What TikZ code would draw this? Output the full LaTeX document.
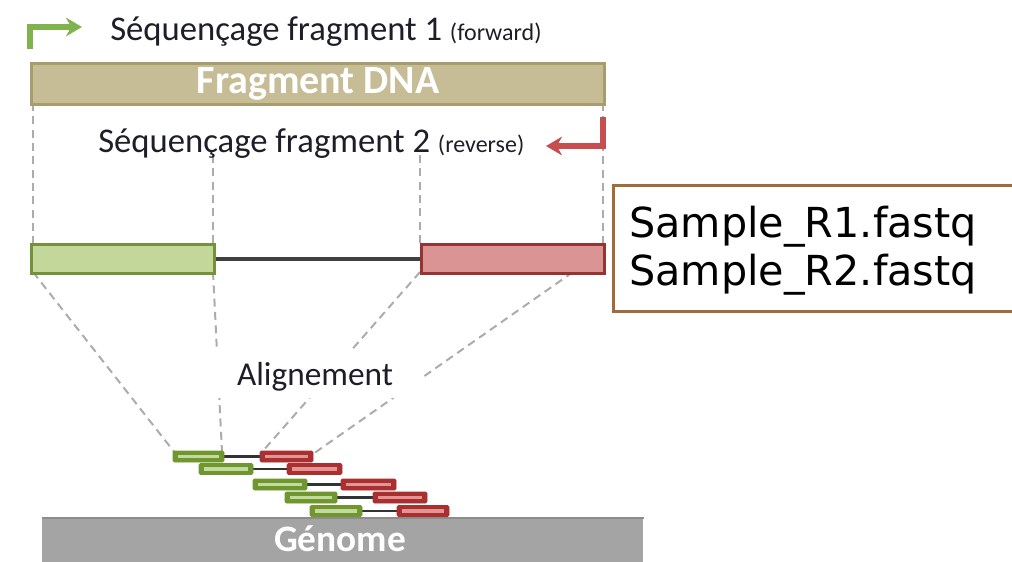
\documentclass[tikz,border=0pt]{standalone}
\usepackage{fontspec}
\setmainfont{Carlito}
\newfontfamily\filefont{DejaVu Sans}
\usetikzlibrary{arrows.meta}
\definecolor{fragfill}{RGB}{198,188,150}
\definecolor{fragline}{RGB}{168,156,108}
\definecolor{fwdgreen}{RGB}{128,178,78}
\definecolor{revred}{RGB}{198,78,78}
\definecolor{greenfill}{RGB}{196,215,155}
\definecolor{greenline}{RGB}{116,146,58}
\definecolor{redfill}{RGB}{218,148,148}
\definecolor{redline}{RGB}{150,52,52}
\definecolor{darkgreen}{RGB}{112,150,48}
\definecolor{lightgreen}{RGB}{196,218,156}
\definecolor{darkred}{RGB}{168,48,48}
\definecolor{lightred}{RGB}{228,148,148}
\definecolor{filebrown}{RGB}{160,108,58}
\definecolor{genomegray}{RGB}{164,164,164}
\definecolor{genomeedge}{RGB}{140,140,140}
\definecolor{guide}{RGB}{172,172,172}
\definecolor{textdark}{RGB}{30,30,40}
\tikzset{
  guideline/.style={draw=guide, line width=1.5, dash pattern=on 6 off 4},
  readbox/.style={line width=2.2},
  link/.style={draw=black!75, line width=3},
  minilink/.style={draw=black!80, line width=1.6},
  seqarrow/.style={line width=3.8, -{Stealth[length=12pt,width=14pt]}},
  label/.style={text=textdark, inner sep=0pt, anchor=base west}
}
% a pair of aligned mates: green forward read, red reverse read
\newcommand{\readpair}[6]{%
  \draw[minilink] (#2,#5) -- (#3,#5);
  \filldraw[draw=darkgreen, fill=darkgreen, rounded corners=1] (#1,#5-5.5) rectangle (#2,#5+5.5);
  \draw[lightgreen, line width=2.6] (#1+5,#5) -- (#2-5,#5);
  \filldraw[draw=darkred, fill=darkred, rounded corners=1] (#3,#5-5.5) rectangle (#4,#5+5.5);
  \draw[lightred, line width=2.6] (#3+5,#5) -- (#4-5,#5);
  \coordinate (#6) at (#1,#5);
}
\begin{document}
\begin{tikzpicture}[x=0.75pt,y=-0.75pt]
\useasboundingbox (0,0) rectangle (1012,561);

% guide lines from the fragment down to the read pair
\draw[guideline] (33,103) -- (33,243);
\draw[guideline] (603,103) -- (603,243);
\draw[guideline] (213,155) -- (213,243);
\draw[guideline] (420,155) -- (420,243);

% guide lines from the read pair down to the alignment
\coordinate (gl) at (33,272);
\coordinate (gr) at (213,272);
\coordinate (rl) at (420,272);
\coordinate (rr) at (573,272);
\coordinate (a1) at (175,453);
\coordinate (a2) at (222,452);
\coordinate (a3) at (262,452);
\coordinate (a4) at (313,454);
\draw[guideline] (gl) -- (a1);
\draw[guideline] (gr) -- (a2);
\draw[guideline] (rl) -- (a3);
\draw[guideline] (rr) -- (a4);

% sequencing direction labels
\draw[fwdgreen, seqarrow] (30,49) -- (30,27) -- (82,27);
\node[label] (fwd) at (110,40) {\fontsize{26}{28}\selectfont Séquençage fragment 1 {\fontsize{18}{20}\selectfont(forward)}};

\node[draw=fragline, fill=fragfill, line width=2.5, minimum width=573*0.75pt, minimum height=41*0.75pt, inner sep=0pt, anchor=north west,
      text=white, font=\bfseries\fontsize{30}{32}\selectfont] (frag) at (30,62) {Fragment DNA};

\node[label] (rev) at (98,152) {\fontsize{26}{28}\selectfont Séquençage fragment 2 {\fontsize{18}{20}\selectfont(reverse)}};
\draw[revred, seqarrow] (603,117) -- (603,146) -- (546,146);

% paired-end reads
\node[draw=greenline, fill=greenfill, readbox, minimum width=183*0.75pt, minimum height=29*0.75pt, inner sep=0pt, anchor=north west] (r1) at (30,243) {};
\node[draw=redline, fill=redfill, readbox, minimum width=183*0.75pt, minimum height=29*0.75pt, inner sep=0pt, anchor=north west] (r2) at (420,243) {};
\draw[link] (r1.east) -- (r2.east -| r2.west);

% output files
\node[draw=filebrown, line width=2.5, fill=white, anchor=north west, minimum width=440*0.75pt, minimum height=126*0.75pt,
      inner sep=0pt] (files) at (612,184) {};
\node[anchor=base west, inner sep=0pt, font=\filefont\fontsize{31}{36}\selectfont] (file1) at (629,237) {Sample\_R1.fastq};
\node[anchor=base west, inner sep=0pt, font=\filefont\fontsize{31}{36}\selectfont] (file2) at (629,285) {Sample\_R2.fastq};

% alignment label, masking the guide lines
\node[fill=white, minimum width=206*0.75pt, minimum height=48*0.75pt, inner sep=0pt] (align) at (318,374) {};
\node[text=textdark, inner sep=0pt, font=\fontsize{25}{28}\selectfont] (alignlab) at (315,377) {Alignement};

% genome and aligned read pairs
\node[fill=genomegray, minimum width=601*0.75pt, minimum height=50*0.75pt, inner sep=0pt, anchor=north west] (genome) at (42,518) {};
\draw[genomeedge, line width=1.5] (genome.north west) -- (genome.north east);
\node[text=white, font=\bfseries\fontsize{28}{30}\selectfont, inner sep=0pt] (genlab) at (340,539) {Génome};

\readpair{173}{224}{260}{313}{456.5}{p1}
\readpair{199}{253}{287}{342}{469}{p2}
\readpair{253}{307}{341}{396}{484.5}{p3}
\readpair{285}{337}{373}{427}{497.5}{p4}
\readpair{310}{362}{397}{449}{511}{p5}
\end{tikzpicture}
\end{document}
